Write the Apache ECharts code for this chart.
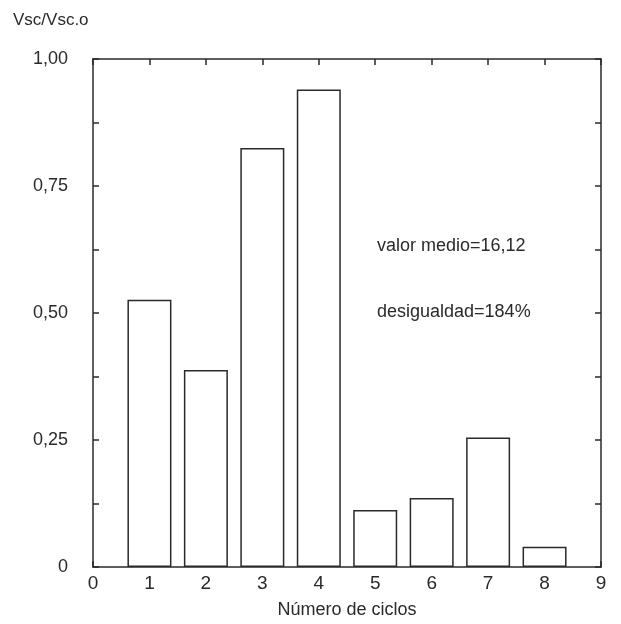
<!DOCTYPE html>
<html>
<head>
<meta charset="utf-8">
<script src="https://cdn.jsdelivr.net/npm/echarts@6/dist/echarts.min.js"></script>
<style>html,body{margin:0;padding:0;background:#fff}#c{width:621px;height:624px}</style>
</head>
<body>
<div id="c"></div>
<script>
var cycles = [1, 2, 3, 4, 5, 6, 7, 8];
var ratios = [0.526, 0.388, 0.825, 0.940, 0.112, 0.136, 0.255, 0.040];
var yTickLabels = {0: '0', 0.25: '0,25', 0.5: '0,50', 0.75: '0,75', 1: '1,00'};
var xTitle = 'Número de ciclos';
var yTitle = 'Vsc/Vsc.o';
var notes = ['valor medio=16,12', 'desigualdad=184%'];

var ink = '#2a2a2a';
var font = 'Liberation Sans';
var chart = echarts.init(document.getElementById('c'));
var lineStyle = {color: ink, width: 1.5};
chart.setOption({
  backgroundColor: '#fff',
  animation: false,
  grid: {left: 93, right: 20, top: 59, bottom: 57, containLabel: false, outerBoundsMode: 'none'},
  xAxis: [{
    type: 'value', min: 0, max: 9, interval: 1, position: 'bottom',
    axisLine: {onZero: false, lineStyle: lineStyle},
    axisTick: {inside: true, length: 6, lineStyle: lineStyle},
    axisLabel: {color: ink, fontSize: 19, fontFamily: font, margin: 7},
    splitLine: {show: false},
    name: xTitle, nameLocation: 'middle', nameGap: 34,
    nameTextStyle: {color: ink, fontSize: 18, fontFamily: font}
  }, {
    type: 'value', min: 0, max: 9, interval: 1, position: 'top',
    axisLine: {show: true, onZero: false, lineStyle: lineStyle},
    axisTick: {inside: true, length: 6, lineStyle: lineStyle},
    axisLabel: {show: false}, splitLine: {show: false}
  }],
  yAxis: [{
    type: 'value', min: 0, max: 1, interval: 0.125, position: 'left',
    axisLine: {show: true, onZero: false, lineStyle: lineStyle},
    axisTick: {inside: true, length: 6, lineStyle: lineStyle},
    axisLabel: {
      color: ink, fontSize: 18, fontFamily: font, margin: 25,
      formatter: function (v) {
        var k = Math.round(v * 1000) / 1000;
        return yTickLabels.hasOwnProperty(k) ? yTickLabels[k] : '';
      }
    },
    splitLine: {show: false}
  }, {
    type: 'value', min: 0, max: 1, interval: 0.125, position: 'right',
    axisLine: {show: true, onZero: false, lineStyle: lineStyle},
    axisTick: {inside: true, length: 6, lineStyle: lineStyle},
    axisLabel: {show: false}, splitLine: {show: false}
  }],
  series: [{
    type: 'bar',
    xAxisIndex: 0, yAxisIndex: 0,
    barWidth: 44,
    data: cycles.map(function (c, i) { return [c, ratios[i]]; }),
    itemStyle: {color: '#fff', borderColor: ink, borderWidth: 1.5}
  }],
  graphic: [
    {type: 'text', left: 13, top: 12, style: {text: yTitle, fill: ink, fontSize: 17, fontFamily: font}},
    {type: 'text', left: 377, top: 237, style: {text: notes[0], fill: ink, fontSize: 18, fontFamily: font}},
    {type: 'text', left: 377, top: 303, style: {text: notes[1], fill: ink, fontSize: 18, fontFamily: font}}
  ]
});
</script>
</body>
</html>
